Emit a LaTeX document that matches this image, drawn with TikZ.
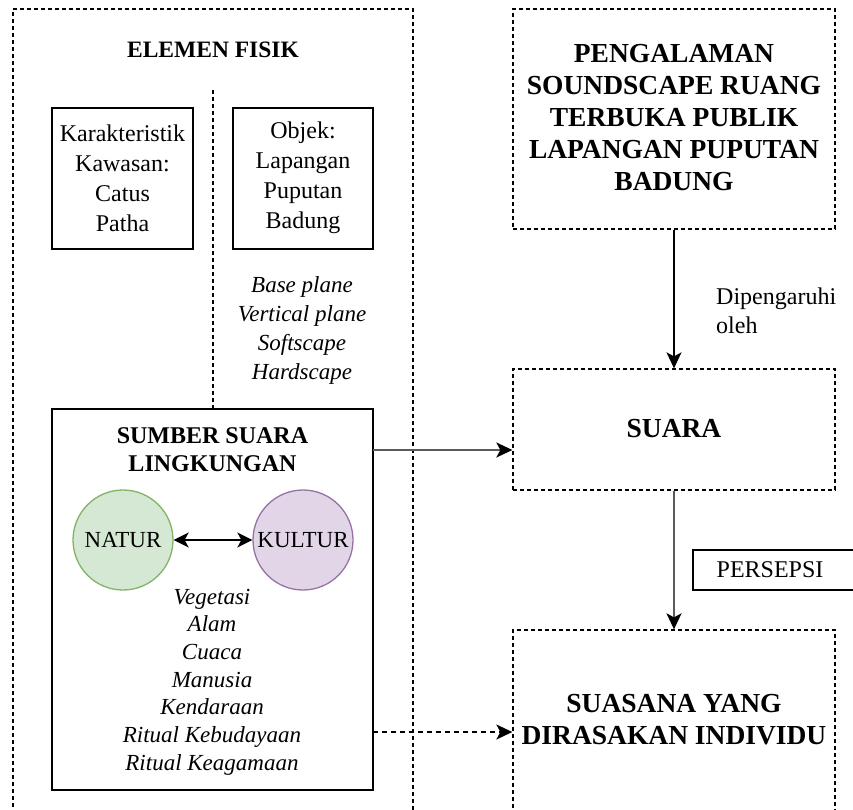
\documentclass[tikz,border=0pt]{standalone}
\usepackage{fontspec}
\setmainfont{Liberation Serif}
\usetikzlibrary{arrows.meta,calc}
\definecolor{natfill}{HTML}{D5E8D4}
\definecolor{natline}{HTML}{82B366}
\definecolor{kulfill}{HTML}{E1D5E7}
\definecolor{kulline}{HTML}{9673A6}
\definecolor{arrgray}{HTML}{5A5A5A}
\begin{document}
\begin{tikzpicture}[x=1pt,y=-1pt,
  dbox/.style={draw, dash pattern=on 4pt off 3pt, line width=1.3pt, rectangle, inner sep=0pt},
  sbox/.style={draw, line width=1.3pt, rectangle, inner sep=0pt},
  txt/.style={align=center, inner sep=0pt},
  reg/.style={txt, font=\fontsize{24}{30}\selectfont},
  ital/.style={txt, font=\fontsize{23}{27.7}\selectfont\itshape},
  bigbold/.style={txt, font=\fontsize{27.5}{32}\selectfont\bfseries},
  arr/.style={-{Stealth[length=16pt,width=15pt,inset=4pt,color=black]}, line width=1.5pt},
  circ/.style={circle, minimum size=100pt, inner sep=0pt, line width=1.3pt, font=\fontsize{23}{27}\selectfont}
]
\useasboundingbox (0,0) rectangle (853,809);

% left outer box
\node[dbox, minimum width=400pt, minimum height=821pt] (elemen) at (213,419.5) {};
\node[txt, font=\fontsize{23.5}{28}\selectfont\bfseries] (elemt) at (213,50) {ELEMEN FISIK};

\node[sbox, minimum width=141pt, minimum height=141pt] (kar) at (122.5,178.5) {};
\node[reg] (kart) at (122.5,178) {Karakteristik\\Kawasan:\\Catus\\Patha};
\node[sbox, minimum width=140pt, minimum height=141pt] (obj) at (303,178.5) {};
\node[reg] (objt) at (303,178) {Objek:\\Lapangan\\Puputan\\Badung};

\node[ital, font=\fontsize{23}{29}\selectfont\itshape] (planes) at (302,330) {Base plane\\Vertical plane\\Softscape\\Hardscape};

\node[draw, line width=1.8pt, rectangle, minimum width=321pt, minimum height=381pt, inner sep=0pt] (sumber) at (212.5,599.5) {};
\node[txt, font=\fontsize{24}{28}\selectfont\bfseries] (sumbert) at (212.5,450) {SUMBER SUARA\\LINGKUNGAN};

\coordinate (divtop) at (213,90);
\draw[dash pattern=on 4pt off 3pt, line width=1.3pt] (divtop) -- (divtop |- sumber.north);

\node[circ, draw=natline, fill=natfill] (natur) at (123,540) {NATUR};
\node[circ, draw=kulline, fill=kulfill] (kultur) at (303,540) {KULTUR};
\draw[{Stealth[length=15pt,width=15pt,inset=4pt]}-{Stealth[length=15pt,width=15pt,inset=4pt]}, line width=1.5pt] (natur) -- (kultur);

\node[ital] (list) at (212,682) {Vegetasi\\Alam\\Cuaca\\Manusia\\Kendaraan\\Ritual Kebudayaan\\Ritual Keagamaan};

% right column
\node[dbox, minimum width=322pt, minimum height=220pt] (peng) at (674,119) {};
\node[bigbold] (pengt) at (674,118) {PENGALAMAN\\SOUNDSCAPE RUANG\\TERBUKA PUBLIK\\LAPANGAN PUPUTAN\\BADUNG};

\node[dbox, minimum width=322pt, minimum height=121pt] (suara) at (674,429.5) {};
\node[bigbold] (suarat) at (674,429) {SUARA};

\node[dbox, minimum width=322pt, minimum height=190pt] (suasana) at (674,725) {};
\node[bigbold] (suasanat) at (674,720) {SUASANA YANG\\DIRASAKAN INDIVIDU};

\node[reg, align=left, font=\fontsize{24}{29}\selectfont, anchor=west] (dip) at (716,311) {Dipengaruhi\\oleh};

\node[sbox, minimum width=170pt, minimum height=40pt] (pers) at (778,570) {};
\node[reg] (perst) at (770,570) {PERSEPSI};

% connectors
\draw[arr] (peng.south) -- (suara.north);
\draw[arr, arrgray, line width=2pt] (suara.south) -- (suasana.north);
\coordinate (s1) at (373,450);
\draw[arr, arrgray, line width=2pt] (s1) -- (s1 -| suara.west);
\coordinate (s2) at (373,732);
\draw[arr, dash pattern=on 5pt off 4pt] (s2) -- (s2 -| suasana.west);
\end{tikzpicture}
\end{document}
